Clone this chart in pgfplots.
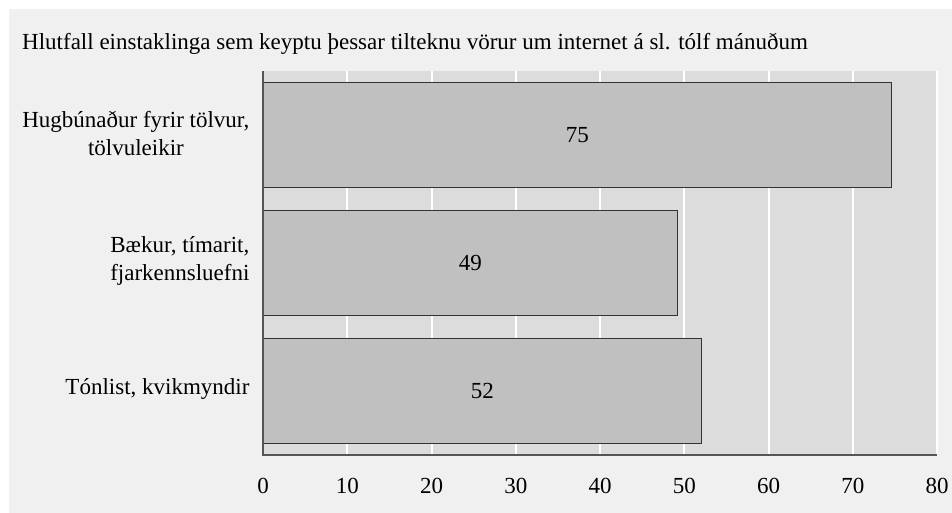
\documentclass[border=0pt]{standalone}
\usepackage{fontspec}
\setmainfont{Liberation Serif}
\usepackage{pgfplots}
\pgfplotsset{compat=1.18}
\definecolor{bgc}{HTML}{F0F0F0}
\definecolor{plotc}{HTML}{DCDCDC}
\definecolor{barc}{HTML}{C0C0C0}
\definecolor{axc}{HTML}{555555}
\definecolor{edgec}{HTML}{333333}
\newcommand{\cf}{\fontsize{23bp}{28bp}\selectfont}
\begin{document}
\begin{tikzpicture}
\useasboundingbox (0,0) rectangle (952bp,-513bp);
\fill[white] (0,0) rectangle (952bp,-513bp);
\fill[bgc] (9bp,-9bp) rectangle (952bp,-513bp);
\node[anchor=base west, inner sep=0pt, font=\cf] at (22bp,-49bp) {Hlutfall einstaklinga sem keyptu þessar tilteknu vörur um internet á sl. tólf mánuðum};
\begin{axis}[
  at={(263bp,-455bp)}, anchor=south west,
  scale only axis, width=674bp, height=384bp,
  xmin=0, xmax=80, ymin=-0.5, ymax=2.5,
  xtick={0,10,...,80}, ytick={0,1,2},
  yticklabels={{Tónlist, kvikmyndir},{Bækur, tímarit,\\fjarkennsluefni},{Hugbúnaður fyrir tölvur,\\tölvuleikir}},
  axis background/.style={fill=plotc},
  xmajorgrids, major grid style={white, line width=2bp},
  major tick length=0pt,
  axis line style={draw=none},
  /pgf/number format/assume math mode=true,
  xticklabel style={font=\cf, anchor=base, yshift=-38bp},
  yticklabel style={align=center, font=\cf, xshift=-10bp, yshift=2bp},
  clip=false,
]
\addplot[xbar, fill=barc, draw=edgec, line width=1bp, bar width=0.825] coordinates {(74.6,2) (49.2,1) (52.1,0)};
\addplot[only marks, mark=none, nodes near coords, point meta=explicit symbolic,
  nodes near coords style={anchor=center, text=black, font=\cf}]
  coordinates {(37.3,2)[75] (24.6,1)[49] (26.05,0)[52]};
\draw[axc, line width=1.5bp] (rel axis cs:0,1) -- (rel axis cs:0,0) -- (rel axis cs:1,0);
\end{axis}
\end{tikzpicture}
\end{document}
